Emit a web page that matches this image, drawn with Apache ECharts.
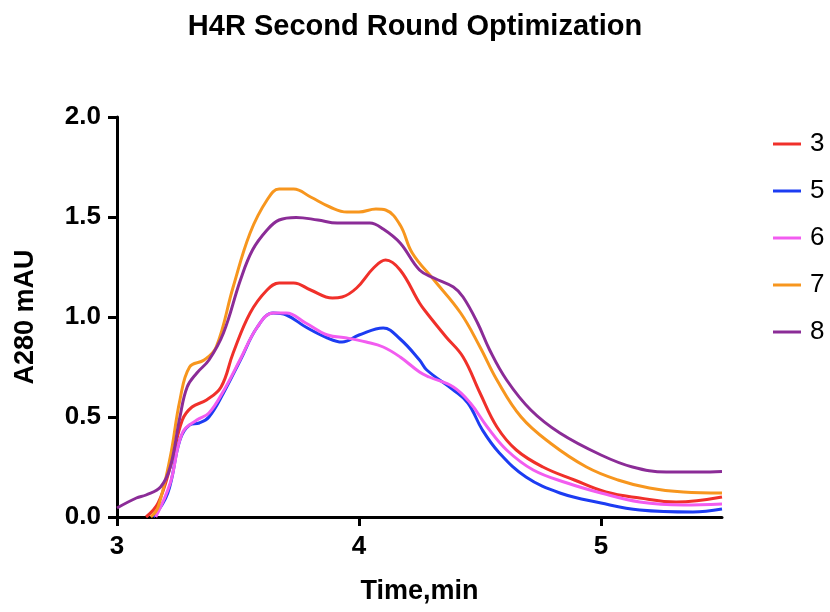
<!DOCTYPE html>
<html>
<head>
<meta charset="utf-8">
<script src="https://cdn.jsdelivr.net/npm/echarts@6/dist/echarts.min.js"></script>
<style>
  html, body { margin: 0; padding: 0; background: #fff; }
  #main { width: 830px; height: 612px; }
</style>
</head>
<body>
<div id="main"></div>
<script>
// 数据
var seriesNames = ["3", "5", "6", "7", "8"];
var seriesColors = ["#F0302A", "#1C3CF2", "#F25CF0", "#F7961E", "#8B2C97"];

var t3 = [3.12, 3.17, 3.22, 3.27, 3.31, 3.37, 3.43, 3.48, 3.55, 3.62, 3.67, 3.73, 3.80, 3.89, 3.93, 3.99, 4.06, 4.11, 4.17, 4.25, 4.28, 4.36, 4.43, 4.50, 4.57, 4.65, 4.76, 4.89, 5.02, 5.16, 5.31, 5.50];
var v3 = [0.00, 0.07, 0.25, 0.485, 0.55, 0.585, 0.65, 0.82, 1.02, 1.135, 1.17, 1.17, 1.135, 1.095, 1.10, 1.145, 1.245, 1.285, 1.235, 1.07, 1.02, 0.90, 0.80, 0.62, 0.45, 0.335, 0.25, 0.185, 0.125, 0.095, 0.075, 0.10];

var t5 = [3.15, 3.21, 3.26, 3.30, 3.34, 3.38, 3.44, 3.51, 3.58, 3.645, 3.70, 3.78, 3.87, 3.93, 4.00, 4.10, 4.17, 4.25, 4.28, 4.39, 4.45, 4.51, 4.58, 4.69, 4.83, 5.00, 5.16, 5.38, 5.50];
var v5 = [0.00, 0.12, 0.385, 0.46, 0.47, 0.50, 0.62, 0.785, 0.95, 1.02, 1.01, 0.95, 0.895, 0.875, 0.91, 0.945, 0.89, 0.785, 0.735, 0.635, 0.57, 0.435, 0.32, 0.20, 0.12, 0.07, 0.035, 0.025, 0.04];

var t6 = [3.16, 3.22, 3.27, 3.33, 3.38, 3.44, 3.51, 3.58, 3.645, 3.70, 3.78, 3.87, 3.95, 4.03, 4.10, 4.17, 4.25, 4.29, 4.39, 4.46, 4.53, 4.61, 4.72, 4.86, 5.00, 5.16, 5.34, 5.50];
var v6 = [0.00, 0.17, 0.42, 0.485, 0.52, 0.63, 0.79, 0.95, 1.02, 1.02, 0.97, 0.91, 0.895, 0.875, 0.85, 0.80, 0.725, 0.70, 0.65, 0.57, 0.45, 0.335, 0.235, 0.17, 0.12, 0.075, 0.06, 0.065];

var t7 = [3.14, 3.17, 3.22, 3.26, 3.30, 3.36, 3.41, 3.48, 3.55, 3.62, 3.67, 3.73, 3.80, 3.88, 3.95, 4.00, 4.07, 4.11, 4.17, 4.22, 4.31, 4.42, 4.50, 4.57, 4.67, 4.79, 4.94, 5.07, 5.20, 5.34, 5.50];
var v7 = [0.00, 0.05, 0.30, 0.585, 0.75, 0.785, 0.85, 1.15, 1.42, 1.585, 1.64, 1.64, 1.60, 1.55, 1.525, 1.525, 1.54, 1.535, 1.46, 1.32, 1.185, 1.02, 0.85, 0.685, 0.50, 0.37, 0.25, 0.185, 0.145, 0.125, 0.12];

var t8 = [3.00, 3.08, 3.12, 3.18, 3.22, 3.26, 3.29, 3.33, 3.38, 3.44, 3.51, 3.56, 3.62, 3.67, 3.74, 3.83, 3.91, 3.975, 4.045, 4.10, 4.17, 4.25, 4.31, 4.39, 4.43, 4.49, 4.54, 4.61, 4.71, 4.83, 5.00, 5.13, 5.27, 5.41, 5.50];
var v8 = [0.045, 0.095, 0.11, 0.15, 0.25, 0.50, 0.65, 0.72, 0.785, 0.92, 1.185, 1.335, 1.435, 1.485, 1.498, 1.485, 1.47, 1.47, 1.47, 1.44, 1.37, 1.235, 1.195, 1.15, 1.10, 0.97, 0.835, 0.685, 0.535, 0.42, 0.31, 0.25, 0.225, 0.225, 0.228];

var xTicks = [3, 4, 5];
var yTicks = [0, 0.5, 1.0, 1.5, 2.0];

var allT = [t3, t5, t6, t7, t8];
var allV = [v3, v5, v6, v7, v8];

function pairs(ts, vs) {
  var out = [];
  for (var i = 0; i < ts.length; i++) {
    out.push([ts[i], vs[i]]);
  }
  return out;
}

var chart = echarts.init(document.getElementById("main"), null, { renderer: "canvas" });

var font = "Liberation Sans, Arial, sans-serif";

var series = [];
for (var i = 0; i < seriesNames.length; i++) {
  series.push({
    name: seriesNames[i],
    type: "line",
    data: pairs(allT[i], allV[i]),
    smooth: 0.4,
    symbol: "none",
    clip: true,
    lineStyle: { color: seriesColors[i], width: 3 },
    itemStyle: { color: seriesColors[i] },
  });
}

var option = {
  backgroundColor: "#fff",
  animation: false,
  title: {
    text: "H4R Second Round Optimization",
    left: "center",
    top: 7,
    textStyle: {
      fontFamily: font,
      fontWeight: "bold",
      fontSize: 29,
      color: "#000",
    },
  },
  legend: {
    orient: "vertical",
    left: 768,
    top: 126,
    itemWidth: 28,
    itemHeight: 3,
    itemGap: 21,
    icon: "rect",
    data: seriesNames,
    textStyle: { fontFamily: font, fontSize: 26, color: "#000", padding: [0, 0, 0, 4] },
  },
  grid: {
    left: 117,
    right: 108,
    top: 117,
    bottom: 95,
    containLabel: false,
  },
  xAxis: {
    type: "value",
    min: 3,
    max: 5.5,
    interval: 1,
    name: "Time,min",
    nameLocation: "middle",
    nameGap: 61,
    nameTextStyle: { fontFamily: font, fontWeight: "bold", fontSize: 27, color: "#000" },
    axisLine: { show: true, onZero: false, lineStyle: { color: "#000", width: 3 } },
    axisTick: { show: true, length: 9, lineStyle: { color: "#000", width: 3 } },
    axisLabel: {
      fontFamily: font, fontWeight: "bold", fontSize: 26, color: "#000", margin: 17,
      showMaxLabel: false,
    },
    splitLine: { show: false },
  },
  yAxis: {
    type: "value",
    min: 0,
    max: 2,
    interval: 0.5,
    name: "A280 mAU",
    nameLocation: "middle",
    nameGap: 78,
    nameTextStyle: { fontFamily: font, fontWeight: "bold", fontSize: 27, color: "#000" },
    axisLine: { show: true, lineStyle: { color: "#000", width: 3 } },
    axisTick: { show: true, length: 9, lineStyle: { color: "#000", width: 3 } },
    axisLabel: {
      fontFamily: font, fontWeight: "bold", fontSize: 26, color: "#000", margin: 16,
      formatter: function (v) { return v.toFixed(1); },
    },
    splitLine: { show: false },
  },
  series: series,
};

chart.setOption(option);
</script>
</body>
</html>
